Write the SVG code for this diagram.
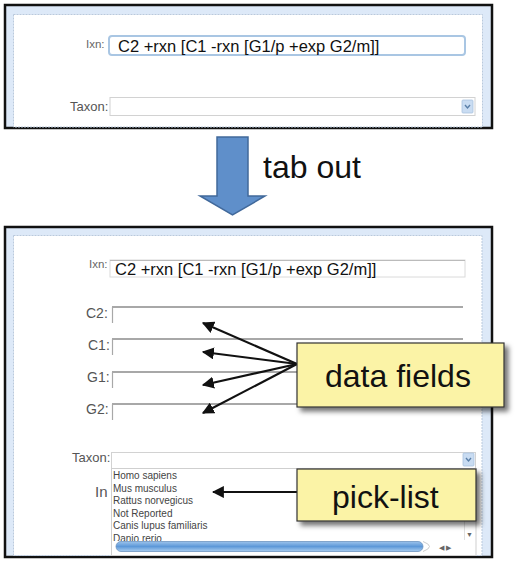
<svg xmlns="http://www.w3.org/2000/svg" width="520" height="561" viewBox="0 0 520 561">
<style>
.frame{fill:#dde9f8;stroke:#111;stroke-width:2.5}
.inner{fill:#fff;stroke:#b9c9dc;stroke-width:1;stroke-dasharray:2 1}
.lbl{font-family:"Liberation Sans",Arial,sans-serif;fill:#555;font-size:13px}
.flbl{font-family:"Liberation Sans",Arial,sans-serif;fill:#555;font-size:14px}
.small{font-family:"Liberation Sans",Arial,sans-serif;fill:#666;font-size:11.5px}
.val{font-family:"Liberation Sans",Arial,sans-serif;fill:#111;font-size:16.5px}
.big{font-family:"Liberation Sans",Arial,sans-serif;fill:#111;font-size:32px}
.item{font-family:"Liberation Sans",Arial,sans-serif;fill:#444;font-size:10px}
.fldtop{stroke:#a8a8a8;stroke-width:2}
.fldleft{stroke:#a8a8a8;stroke-width:1.2}
.callout{fill:#fbf3a6;stroke:#333;stroke-width:1.2}
.conn{stroke:#111;stroke-width:2.2;fill:none}
</style>
<defs>
<marker id="ah" viewBox="0 0 10 10" refX="9" refY="5" markerWidth="5.5" markerHeight="5.5" orient="auto-start-reverse" markerUnits="strokeWidth">
<path d="M0,0 L10,5 L0,10 z" fill="#111"/>
</marker>
<filter id="sh" x="-10%" y="-10%" width="130%" height="140%">
<feDropShadow dx="4" dy="4" stdDeviation="2.5" flood-color="#000" flood-opacity="0.55"/>
</filter>
<linearGradient id="scr" x1="0" y1="0" x2="0" y2="1">
<stop offset="0" stop-color="#9cc3ec"/>
<stop offset="0.5" stop-color="#5d98d8"/>
<stop offset="1" stop-color="#a9cdf0"/>
</linearGradient>
<g id="dd">
<rect x="0" y="0" width="11" height="13" rx="1" fill="#c9dcf2" stroke="#a9c2de" stroke-width="0.8"/>
<path d="M3,5 L5.5,8 L8,5" fill="none" stroke="#5a7fa8" stroke-width="1.4"/>
</g>
</defs>

<!-- Top panel -->
<g id="top-panel">
<rect class="frame" x="5" y="5" width="487" height="123"/>
<rect class="inner" x="13.5" y="14.5" width="469" height="112.5"/>
</g>
<g id="top-ixn">
<text class="small" x="86" y="48">Ixn:</text>
<rect x="109" y="36" width="356" height="19" rx="3" fill="#fff" stroke="#a9c6e3" stroke-width="2"/>
<text class="val" x="118" y="52">C2 +rxn [C1 -rxn [G1/p +exp G2/m]]</text>
</g>
<g id="top-taxon">
<text class="lbl" x="70" y="111">Taxon:</text>
<rect x="110" y="97.5" width="365" height="18" fill="#fff" stroke="#d2d2d2" stroke-width="1"/>
<use href="#dd" x="462" y="100"/>
</g>

<!-- Big arrow -->
<g id="tab-out">
<path d="M217,137 L248,137 L248,196 L265,196 L232.5,215 L200,196 L217,196 Z" fill="#5f8fca" stroke="#41699b" stroke-width="1.5"/>
<text class="big" x="263" y="178">tab out</text>
</g>

<!-- Bottom panel -->
<g id="bottom-panel">
<rect class="frame" x="5" y="227" width="487" height="330"/>
<rect class="inner" x="13.5" y="235.5" width="468.5" height="320"/>
</g>
<g id="bottom-ixn">
<text class="small" x="89" y="268">Ixn:</text>
<rect x="110" y="260" width="355" height="17" fill="#fff" stroke="#dadada" stroke-width="1"/>
<line x1="110" y1="260.5" x2="465" y2="260.5" stroke="#bbb" stroke-width="1"/>
<text class="val" x="115" y="275">C2 +rxn [C1 -rxn [G1/p +exp G2/m]]</text>
</g>
<g id="field-c2">
<text class="flbl" x="86" y="318">C2:</text>
<line class="fldtop" x1="112" y1="307" x2="463" y2="307"/>
<line class="fldleft" x1="112.5" y1="307" x2="112.5" y2="323"/>
</g>
<g id="field-c1">
<text class="flbl" x="88" y="350">C1:</text>
<line class="fldtop" x1="112" y1="339" x2="463" y2="339"/>
<line class="fldleft" x1="112.5" y1="339" x2="112.5" y2="355"/>
</g>
<g id="field-g1">
<text class="flbl" x="87" y="382">G1:</text>
<line class="fldtop" x1="112" y1="372" x2="463" y2="372"/>
<line class="fldleft" x1="112.5" y1="372" x2="112.5" y2="388"/>
</g>
<g id="field-g2">
<text class="flbl" x="86" y="414">G2:</text>
<line class="fldtop" x1="112" y1="404" x2="463" y2="404"/>
<line class="fldleft" x1="112.5" y1="404" x2="112.5" y2="420"/>
</g>
<g id="bottom-taxon">
<text class="lbl" x="72" y="462">Taxon:</text>
<rect x="111.5" y="452.5" width="364" height="16" fill="#fff" stroke="#d2d2d2" stroke-width="1"/>
<use href="#dd" x="463" y="453"/>
<text class="flbl" x="95" y="497" style="font-size:15px">In</text>
</g>
<g id="pick-list-dropdown">
<rect x="111.5" y="468.5" width="364.5" height="87" fill="#fff" stroke="#cfcfcf" stroke-width="1"/>
<text class="item" x="113" y="479">Homo sapiens</text>
<text class="item" x="113" y="492">Mus musculus</text>
<text class="item" x="113" y="504">Rattus norvegicus</text>
<text class="item" x="113" y="517">Not Reported</text>
<text class="item" x="113" y="529">Canis lupus familiaris</text>
<text class="item" x="113" y="542">Danio rerio</text>
<rect x="112" y="541" width="363" height="14" fill="#fff"/>
<rect x="116" y="541.5" width="307" height="10" rx="5" fill="url(#scr)" stroke="#6d94c0" stroke-width="0.8"/>
<path d="M423,541.5 Q436,546.5 423,551.5" fill="none" stroke="#ccc" stroke-width="1"/>
<line x1="464.5" y1="470" x2="464.5" y2="540" stroke="#e0e0e0" stroke-width="1"/>
<text class="item" x="466" y="537" style="font-size:7px;fill:#666">▼</text>
<text class="item" x="439" y="550" style="font-size:7px;fill:#666">◀ ▶</text>
</g>

<!-- Connectors -->
<g id="connectors">
<line class="conn" x1="297" y1="364" x2="203" y2="323" marker-end="url(#ah)"/>
<line class="conn" x1="297" y1="364" x2="203" y2="352" marker-end="url(#ah)"/>
<line class="conn" x1="297" y1="364" x2="203" y2="385" marker-end="url(#ah)"/>
<line class="conn" x1="297" y1="364" x2="203" y2="413" marker-end="url(#ah)"/>
<line class="conn" x1="297" y1="492" x2="213" y2="492" marker-end="url(#ah)"/>
</g>

<!-- Callouts -->
<g id="data-fields">
<rect class="callout" x="297" y="343" width="207" height="64" filter="url(#sh)"/>
<text class="big" x="325" y="387">data fields</text>
</g>
<g id="pick-list">
<rect class="callout" x="297" y="469" width="179" height="52" filter="url(#sh)"/>
<text class="big" x="332" y="508">pick-list</text>
</g>
</svg>
